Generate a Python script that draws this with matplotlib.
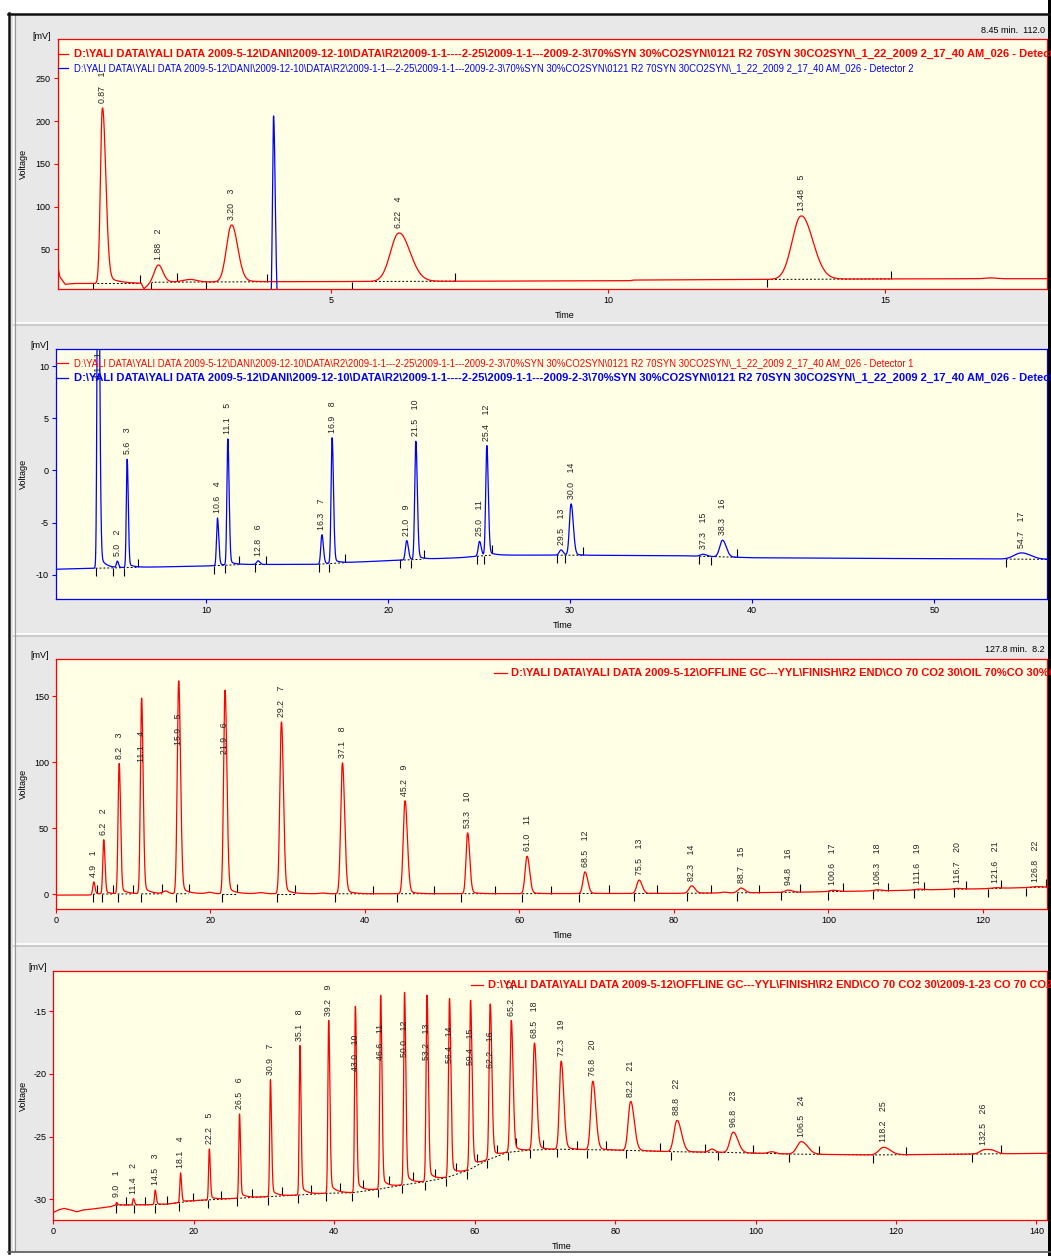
import numpy as np
import matplotlib.pyplot as plt
from matplotlib.patches import Rectangle

plt.rcParams['font.family'] = ['Liberation Sans', 'DejaVu Sans']
plt.rcParams['axes.unicode_minus'] = False

W, H = 1051, 1256
YELLOW = '#ffffe6'
GRAY = '#e8e8e8'

# ---------- panel 1: 0-18 min, detector 1 (red) and detector 2 (blue) ----------
p1_red_rt = [0.87, 1.88, 3.20, 6.22, 13.48]
p1_red_lab = ['0.87', '1.88', '3.20', '6.22', '13.48']
p1_red_h = [205, 20, 66.5, 56.5, 74]
p1_red_sl = [0.035, 0.07, 0.09, 0.15, 0.16]
p1_red_sr = [0.06, 0.08, 0.11, 0.20, 0.21]
p1_minor_rt = [2.45, 16.9]
p1_minor_h = [3, 1]
p1_minor_w = [0.12, 0.1]
p1_base_t = [0.06, 0.1, 0.2, 0.35, 1.5, 1.57, 1.62, 1.7, 1.78, 3.7, 10.4, 10.45, 15.5, 17.92]
p1_base_v = [33, 18, 9, 10, 10, 10, 3.5, 8, 11.5, 12, 13.2, 14, 15.5, 15.6]
p1_blue_rt = [3.96]
p1_blue_h = [231]
p1_blue_sl = [0.02]
p1_blue_sr = [0.03]
p1_blue_base_t = [0.06, 17.92]
p1_blue_base_v = [-25, -25]
p1_tick_dn = [0.7, 1.75, 2.74, 5.37, 12.87]
p1_tick_up = [1.55, 2.22, 3.84, 7.23, 15.1]
p1_dash = [(0.7, 1.55), (1.75, 3.84), (5.37, 7.23), (12.87, 15.1)]

# ---------- panel 2: 0-56 min, detector 2 (blue) ----------
p2_rt = [4.06, 5.12, 5.66, 10.62, 11.19, 12.85, 16.36, 16.92, 21.02, 21.52,
         25.02, 25.42, 29.5, 30.05, 37.3, 38.37, 54.8]
p2_lab = ['4.1', '5.0', '5.6', '10.6', '11.1', '12.8', '16.3', '16.9', '21.0', '21.5',
          '25.0', '25.4', '29.5', '30.0', '37.3', '38.3', '54.7']
p2_h = [40, 0.6, 10.35, 4.55, 12.05, 0.35, 2.8, 12.0, 1.85, 11.3,
        1.4, 10.5, 0.5, 4.9, 0.2, 1.6, 0.6]
p2_sl = [0.05, 0.05, 0.045, 0.05, 0.05, 0.08, 0.06, 0.055, 0.07, 0.06,
         0.07, 0.06, 0.1, 0.09, 0.15, 0.15, 0.4]
p2_sr = [0.08, 0.06, 0.06, 0.07, 0.07, 0.1, 0.08, 0.075, 0.09, 0.08,
         0.09, 0.08, 0.12, 0.12, 0.2, 0.2, 0.5]
p2_base_t = [1.74, 4, 10, 12, 16, 18, 20, 24, 25.6, 29, 36, 40, 45, 50, 56.2]
p2_base_v = [-9.45, -9.35, -9.14, -9.0, -8.98, -8.79, -8.63, -8.34, -8.1, -8.1,
             -8.15, -8.35, -8.4, -8.44, -8.5]
p2_tick_dn = [3.93, 4.86, 5.49, 10.43, 11.03, 12.68, 16.18, 16.73, 20.65, 21.28,
              24.89, 25.24, 29.27, 29.69, 37.1, 37.75, 53.94]
p2_tick_up = [6.26, 11.79, 13.27, 17.62, 21.95, 25.7, 30.7, 39.16]
p2_dash = [(3.93, 6.26), (10.43, 11.79), (12.68, 13.27), (16.18, 17.62), (20.65, 21.95),
           (24.89, 25.7), (29.27, 30.7), (37.1, 39.16), (53.94, 56.2)]

# ---------- panel 3: 0-128 min, oil sample ----------
p3_rt = [4.9, 6.2, 8.2, 11.1, 15.9, 21.9, 29.2, 37.1, 45.2, 53.3, 61.0,
         68.5, 75.5, 82.3, 88.7, 94.8, 100.6, 106.3, 111.6, 116.7, 121.6, 126.8]
p3_lab = ['4.9', '6.2', '8.2', '11.1', '15.9', '21.9', '29.2', '37.1', '45.2', '53.3', '61.0',
          '68.5', '75.5', '82.3', '88.7', '94.8', '100.6', '106.3', '111.6', '116.7', '121.6', '126.8']
p3_h = [9.3, 41, 98.5, 148, 161, 154, 130, 99, 70.3, 46, 28.3,
        16.4, 10.1, 5.6, 3.6, 1.7, 1.0, 0.8, 0.7, 0.6, 0.6, 0.6]
p3_sl = [0.12, 0.12, 0.14, 0.15, 0.18, 0.18, 0.2, 0.22, 0.23, 0.2, 0.25,
         0.26, 0.3, 0.34, 0.38, 0.4, 0.45, 0.45, 0.5, 0.5, 0.5, 0.5]
p3_sr = [0.16, 0.16, 0.18, 0.2, 0.24, 0.24, 0.26, 0.28, 0.3, 0.27, 0.32,
         0.34, 0.38, 0.42, 0.46, 0.5, 0.55, 0.55, 0.6, 0.6, 0.6, 0.6]
p3_minor_rt = [14.2, 19.9, 26.5, 34.5, 86.5]
p3_minor_h = [2.0, 1.0, 0.8, 0.5, 0.6]
p3_minor_w = [0.35, 0.4, 0.5, 0.4, 0.4]
p3_base_t = [0, 4.3, 5, 20, 40, 60, 80, 88, 95, 100, 105, 110, 115, 120, 125, 128.3]
p3_base_v = [-0.8, -0.8, 0, 0.3, 0.2, 0.3, 0.5, 0.9, 1.3, 1.8, 2.3, 2.8, 3.5, 4.0, 4.8, 5.3]
p3_tick_dn = [4.83, 6.03, 8.0, 11.07, 15.62, 21.49, 28.66, 36.1, 44.2, 52.4, 60.4,
              67.7, 74.9, 81.7, 88.2, 93.85, 100.0, 105.8, 111.02, 116.2, 120.6, 125.6]
p3_tick_up = [5.33, 7.44, 9.93, 13.79, 17.2, 23.4, 30.98, 41.05, 48.93, 56.9, 64.15,
              71.58, 77.8, 84.8, 91.0, 96.36, 101.9, 107.7, 112.4, 117.8, 122.4, 128.2]

# ---------- panel 4: 0-142 min, 2009-1-23 sample ----------
p4_rt = [9.0, 11.4, 14.5, 18.1, 22.2, 26.5, 30.9, 35.1, 39.2, 43.0, 46.6, 50.0, 53.2,
         56.4, 59.4, 62.2, 65.2, 68.5, 72.3, 76.8, 82.2, 88.8, 96.8, 106.5, 118.2, 132.5]
p4_lab = ['9.0', '11.4', '14.5', '18.1', '22.2', '26.5', '30.9', '35.1', '39.2', '43.0', '46.6',
          '50.0', '53.2', '56.4', '59.4', '62.2', '65.2', '68.5', '72.3', '76.8', '82.2', '88.8',
          '96.8', '106.5', '118.2', '132.5']
p4_h = [0.2, 0.5, 1.15, 2.35, 4.05, 6.7, 9.3, 11.9, 13.75, 14.8, 15.4, 15.3, 14.8,
        14.15, 13.4, 12.3, 10.45, 8.5, 7.0, 5.45, 3.9, 2.5, 1.63, 1.0, 0.6, 0.32]
p4_sl = [0.08, 0.1, 0.1, 0.1, 0.1, 0.1, 0.1, 0.1, 0.11, 0.11, 0.12, 0.12, 0.13,
         0.14, 0.14, 0.15, 0.17, 0.21, 0.24, 0.28, 0.34, 0.42, 0.45, 0.6, 0.64, 0.56]
p4_sr = [0.12, 0.14, 0.14, 0.14, 0.14, 0.14, 0.16, 0.16, 0.17, 0.17, 0.18, 0.18, 0.19,
         0.2, 0.21, 0.23, 0.25, 0.31, 0.36, 0.42, 0.5, 0.62, 0.67, 0.9, 0.96, 0.84]
p4_minor_rt = [93.8, 102.3, 133.8]
p4_minor_h = [0.25, 0.15, 0.2]
p4_minor_w = [0.4, 0.5, 0.6]
p4_base_t = [0, 0.7, 1.5, 2.5, 3.3, 4.2, 5.2, 6.5, 8, 9, 12, 16, 20, 25, 30.6, 34.9, 38.8,
             42.6, 46.2, 49.7, 52.9, 55.9, 59.0, 61.8, 64.7, 68, 72, 80, 88, 95, 105, 117,
             131, 141.5]
p4_base_v = [-31.05, -30.85, -30.72, -30.85, -31.0, -30.85, -30.8, -30.7, -30.6, -30.45,
             -30.45, -30.4, -30.11, -29.95, -29.79, -29.66, -29.52, -29.47, -29.2, -28.86,
             -28.6, -28.28, -27.7, -26.86, -26.25, -26.07, -26.0, -26.07, -26.2, -26.25,
             -26.39, -26.46, -26.39, -26.33]
p4_tick_dn = [8.92, 11.41, 14.44, 17.95, 22.0, 26.1, 30.57, 34.9, 38.84, 42.56, 46.2, 49.67,
              52.9, 55.94, 58.96, 61.8, 64.74, 67.86, 71.74, 76.0, 81.5, 87.9, 94.67, 104.8,
              116.7, 130.8]
p4_tick_up = [10.3, 13.0, 16.2, 19.9, 23.9, 28.26, 32.6, 36.7, 40.8, 44.1, 47.8, 51.2, 54.4,
              57.4, 60.3, 63.2, 65.95, 69.7, 74.6, 78.7, 86.4, 92.8, 99.6, 109.0, 121.35, 135.0]
p4_dash = [(8.92, 135.0)]

# legend / header texts
leg1_red = r'D:\YALI DATA\YALI DATA 2009-5-12\DANI\2009-12-10\DATA\R2\2009-1-1----2-25\2009-1-1---2009-2-3\70%SYN 30%CO2SYN\0121 R2 70SYN 30CO2SYN\_1_22_2009 2_17_40 AM_026 - Detector 1'
leg1_blue = r'D:\YALI DATA\YALI DATA 2009-5-12\DANI\2009-12-10\DATA\R2\2009-1-1---2-25\2009-1-1---2009-2-3\70%SYN 30%CO2SYN\0121 R2 70SYN 30CO2SYN\_1_22_2009 2_17_40 AM_026 - Detector 2'
leg2_red = r'D:\YALI DATA\YALI DATA 2009-5-12\DANI\2009-12-10\DATA\R2\2009-1-1---2-25\2009-1-1---2009-2-3\70%SYN 30%CO2SYN\0121 R2 70SYN 30CO2SYN\_1_22_2009 2_17_40 AM_026 - Detector 1'
leg2_blue = r'D:\YALI DATA\YALI DATA 2009-5-12\DANI\2009-12-10\DATA\R2\2009-1-1----2-25\2009-1-1---2009-2-3\70%SYN 30%CO2SYN\0121 R2 70SYN 30CO2SYN\_1_22_2009 2_17_40 AM_026 - Detector 2'
leg3_red = r'D:\YALI DATA\YALI DATA 2009-5-12\OFFLINE GC---YYL\FINISH\R2 END\CO 70 CO2 30\OIL 70%CO 30%CO2 30'
leg4_red = r'D:\YALI DATA\YALI DATA 2009-5-12\OFFLINE GC---YYL\FINISH\R2 END\CO 70 CO2 30\2009-1-23 CO 70 CO2 30'
head1 = '8.45 min.  112.0'
head3 = '127.8 min.  8.2'


def peak(t, t0, h, sl, sr, tail, tau):
    s = np.where(t < t0, sl, sr)
    y = h * np.exp(-0.5 * ((t - t0) / s) ** 2)
    dt = np.clip(t - t0, 0, None)
    y = y + h * tail * (1 - np.exp(-dt / sr)) * np.exp(-dt / tau)
    return y


def make_trace(t, base_t, base_v, peaks, tail=0.0, tau=1.0):
    y = np.interp(t, base_t, base_v)
    for t0, h, sl, sr in peaks:
        y = y + peak(t, t0, h, sl, sr, tail, tau)
    return y


fig = plt.figure(figsize=(W / 100, H / 100), dpi=100)
fig.patch.set_facecolor('white')

bg = fig.add_axes([0, 0, 1, 1], zorder=-1)
bg.set_xlim(0, W)
bg.set_ylim(H, 0)
bg.axis('off')
bg.add_patch(Rectangle((14, 15), 1034, 1236, facecolor=GRAY, edgecolor='none'))
for ys in [322.7, 633.5, 944]:
    bg.plot([14, 1048], [ys, ys], color='white', lw=1.2)
    bg.plot([14, 1048], [ys + 2.3, ys + 2.3], color='#c6c6c6', lw=1.2)
bg.plot([14.5, 14.5], [15, 1251], color='#9a9a9a', lw=0.8)
bg.plot([11.5, 11.5], [15, 1251], color='#d8d8d8', lw=1.2)


def panel(rect, xlim, ylim, frame, xticks, yticks):
    l, t, r, b = rect
    ax = fig.add_axes([l / W, 1 - b / H, (r - l) / W, (b - t) / H])
    ax.set_facecolor(YELLOW)
    ax.set_xlim(xlim)
    ax.set_ylim(ylim)
    for s in ax.spines.values():
        s.set_color(frame)
        s.set_linewidth(0.9)
    ax.set_xticks(xticks)
    ax.set_yticks(yticks)
    ax.tick_params(colors=frame, labelcolor='black', labelsize=6.5, length=3, width=0.8, pad=2)
    return ax


def upx(ax, px):
    y0, y1 = ax.get_ylim()
    return px * (y1 - y0) / (ax.get_position().height * H)


def label_peaks(ax, t, y, rts, labs):
    ytop = ax.get_ylim()[1]
    for i, (rt, lab) in enumerate(zip(rts, labs)):
        top = np.interp(rt, t, y)
        if top > ytop:
            # off-scale peak: label sits just under the legend
            ypos = ytop - upx(ax, 30)
        elif top + upx(ax, 44) > ytop:
            ypos = top - upx(ax, 64)
        else:
            ypos = top + upx(ax, 5)
        ax.text(rt, ypos, f'{lab}    {i + 1}', rotation=90, ha='center', va='bottom',
                fontsize=6.3, color='#222222', zorder=4, clip_on=True)


def integration_marks(ax, t, y, base_t, base_v, dn, up, dash):
    L = upx(ax, 8)
    yb = np.interp(dn, base_t, base_v)
    ax.vlines(dn, yb - L, yb, colors='black', lw=0.8, zorder=2)
    yu = np.interp(up, t, y)
    ax.vlines(up, yu, yu + L, colors='black', lw=0.8, zorder=2)
    for a, b in dash:
        tt = np.linspace(a, b, 200)
        ax.plot(tt, np.interp(tt, base_t, base_v), ls=(0, (2, 2)), color='black',
                lw=0.7, zorder=1)


# ---- panel 1
ax1 = panel((57.5, 39.3, 1047, 289.3), (0.06, 17.92), (3.2, 295.6), 'red',
            [5, 10, 15], [50, 100, 150, 200, 250])
t1 = np.linspace(0.06, 17.92, 6000)
pk = list(zip(p1_red_rt, p1_red_h, p1_red_sl, p1_red_sr))
pk += list(zip(p1_minor_rt, p1_minor_h, p1_minor_w, p1_minor_w))
y1 = make_trace(t1, p1_base_t, p1_base_v, pk, tail=0.06, tau=0.2)
yb1 = make_trace(t1, p1_blue_base_t, p1_blue_base_v,
                 list(zip(p1_blue_rt, p1_blue_h, p1_blue_sl, p1_blue_sr)))
integration_marks(ax1, t1, y1, p1_base_t, p1_base_v, p1_tick_dn, p1_tick_up, p1_dash)
ax1.plot(t1, y1, color='red', lw=0.9, zorder=3)
ax1.plot(t1, yb1, color='blue', lw=0.9, zorder=3)
label_peaks(ax1, t1, y1, p1_red_rt, p1_red_lab)

# ---- panel 2
ax2 = panel((55.8, 349.3, 1047, 598.7), (1.74, 56.2), (-12.27, 11.6), 'blue',
            [10, 20, 30, 40, 50], [-10, -5, 0, 5, 10])
t2 = np.linspace(1.74, 56.2, 8000)
y2 = make_trace(t2, p2_base_t, p2_base_v, list(zip(p2_rt, p2_h, p2_sl, p2_sr)),
                tail=0.04, tau=0.3)
integration_marks(ax2, t2, y2, p2_base_t, p2_base_v, p2_tick_dn, p2_tick_up, p2_dash)
ax2.plot(t2, y2, color='blue', lw=0.9, zorder=3)
label_peaks(ax2, t2, y2, p2_rt, p2_lab)

# ---- panel 3
ax3 = panel((55.8, 659.3, 1047, 908.7), (0, 128.3), (-11.1, 177.8), 'red',
            [0, 20, 40, 60, 80, 100, 120], [0, 50, 100, 150])
t3 = np.linspace(0, 128.3, 12000)
pk = list(zip(p3_rt, p3_h, p3_sl, p3_sr))
pk += list(zip(p3_minor_rt, p3_minor_h, p3_minor_w, p3_minor_w))
y3 = make_trace(t3, p3_base_t, p3_base_v, pk, tail=0.05, tau=0.8)
integration_marks(ax3, t3, y3, p3_base_t, p3_base_v, p3_tick_dn, p3_tick_up,
                  list(zip(p3_tick_dn, p3_tick_up)))
ax3.plot(t3, y3, color='red', lw=0.9, zorder=3)
label_peaks(ax3, t3, y3, p3_rt, p3_lab)

# ---- panel 4
ax4 = panel((53.4, 970.7, 1047, 1220), (0, 141.5), (-31.65, -11.76), 'red',
            [0, 20, 40, 60, 80, 100, 120, 140], [-30, -25, -20, -15])
t4 = np.linspace(0, 141.5, 12000)
pk = list(zip(p4_rt, p4_h, p4_sl, p4_sr))
pk += list(zip(p4_minor_rt, p4_minor_h, p4_minor_w, p4_minor_w))
y4 = make_trace(t4, p4_base_t, p4_base_v, pk, tail=0.07, tau=0.8)
integration_marks(ax4, t4, y4, p4_base_t, p4_base_v, p4_tick_dn, p4_tick_up, p4_dash)
ax4.plot(t4, y4, color='red', lw=0.9, zorder=3)
label_peaks(ax4, t4, y4, p4_rt, p4_lab)

# ---- overlay: axis captions, legends, window frame
ov = fig.add_axes([0, 0, 1, 1], zorder=5)
ov.set_xlim(0, W)
ov.set_ylim(H, 0)
ov.axis('off')
ov.patch.set_alpha(0)

for (mvx, mvy), vy, (tx, ty) in [((41.5, 36.7), 164, (565, 316)),
                                 ((39.5, 346), 474, (563, 625.7)),
                                 ((39.5, 656), 784, (563, 935.7)),
                                 ((38, 967), 1096, (561.7, 1246.7))]:
    ov.text(mvx, mvy, '[mV]', ha='center', va='center', fontsize=6.5)
    ov.text(23, vy, 'Voltage', rotation=90, ha='center', va='center', fontsize=6.5)
    ov.text(tx, ty, 'Time', ha='center', va='center', fontsize=6.5)

ov.text(980.7, 30.7, head1, ha='left', va='center', fontsize=6.5)
ov.text(985, 650, head3, ha='left', va='center', fontsize=6.5)


def legend_line(x0, x1, xt, y, text, color, bold):
    ov.plot([x0, x1], [y, y], color=color, lw=0.9)
    ov.text(xt, y, text, color=color, ha='left', va='center',
            fontsize=8.0 if bold else 6.85, fontweight='bold' if bold else 'normal')


legend_line(57.5, 67.6, 73.7, 54, leg1_red, 'red', True)
legend_line(57.5, 67.6, 73.7, 68.3, leg1_blue, 'blue', False)
legend_line(55.8, 67.6, 73.7, 363.3, leg2_red, 'red', False)
legend_line(55.8, 67.6, 73.7, 377.7, leg2_blue, 'blue', True)
legend_line(494, 507, 511, 673.3, leg3_red, 'red', True)
legend_line(470.6, 482.8, 488.5, 985, leg4_red, 'red', True)

# window frame (drawn last so it clips overlong legend lines)
ov.add_patch(Rectangle((1047.5, 0), 10, H, facecolor='black', edgecolor='none'))
ov.add_patch(Rectangle((1051, 0), 10, H, facecolor='white', edgecolor='none'))
ov.plot([8, 1051], [13.8, 13.8], color='#111111', lw=1.8)
ov.plot([9, 9], [13, 1253], color='#111111', lw=1.8)
ov.plot([8, 1051], [1252, 1252], color='#555555', lw=1.2)

fig.savefig('out.png', dpi=100, facecolor='white')
